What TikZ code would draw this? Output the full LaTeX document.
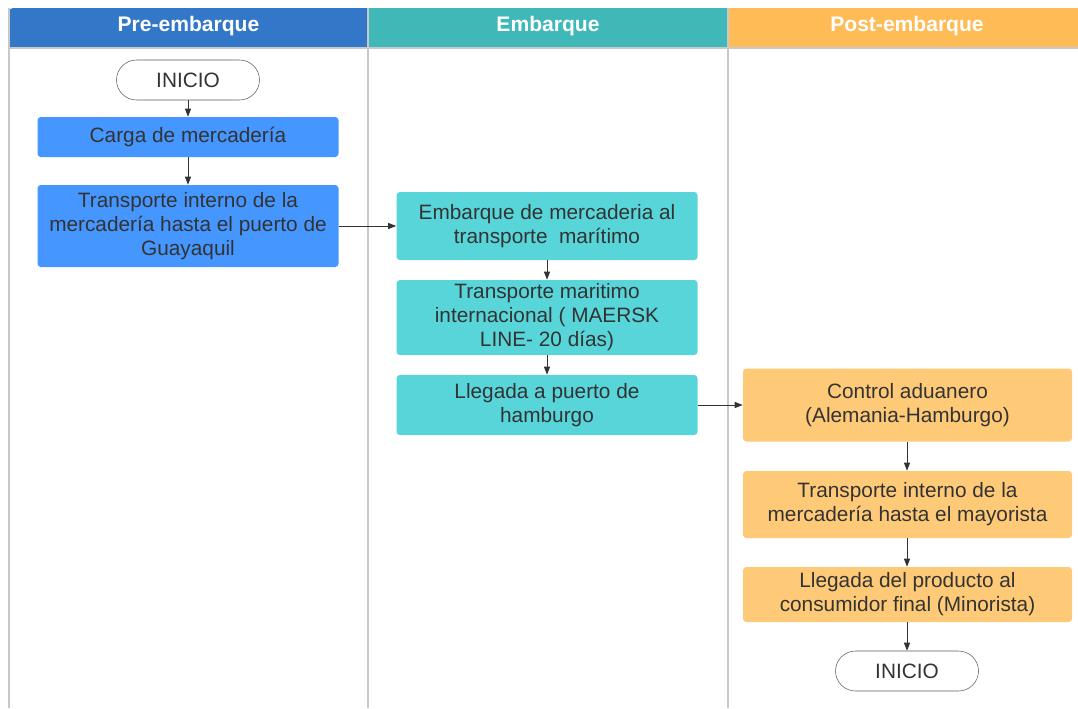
\documentclass[tikz,border=0pt]{standalone}
\usepackage{fontspec}
\setmainfont{Liberation Sans}
\usetikzlibrary{positioning,arrows.meta}
\definecolor{preblue}{RGB}{51,120,200}
\definecolor{embteal}{RGB}{64,184,184}
\definecolor{postorange}{RGB}{255,187,85}
\definecolor{boxblue}{RGB}{69,150,255}
\definecolor{boxteal}{RGB}{87,213,217}
\definecolor{boxorange}{RGB}{255,202,120}
\definecolor{textgray}{RGB}{51,51,51}
\definecolor{lanegray}{RGB}{200,200,200}

\begin{document}
\begin{tikzpicture}[x=0.75pt, y=-0.75pt,
  header/.style={text=white, font=\fontsize{15.8}{18}\selectfont\bfseries},
  paso/.style={rectangle, rounded corners=2.5pt, align=center, inner sep=0pt,
               text=textgray, font=\fontsize{15.6}{18}\selectfont},
  inicio/.style={rectangle, rounded corners=15pt, draw=textgray!80, fill=white,
                 minimum width=107.25pt, minimum height=30pt, align=center,
                 text=textgray, font=\fontsize{15.6}{18}\selectfont},
  lane/.style={draw=lanegray, line width=0.9pt},
  arrow/.style={-{Triangle[length=6pt, width=4.5pt]}, draw=textgray, line width=0.7pt}
]
  \useasboundingbox (0,0) rectangle (1078,708);

  % carriles
  \fill[preblue] (9,48) [rounded corners=3pt] -- (9,8) [sharp corners] -- (368,8) -- (368,48) -- cycle;
  \fill[embteal] (368,8) rectangle (728,48);
  \fill[postorange] (728,8) rectangle (1078,48);
  \draw[lane] (9,8) -- (9,708);
  \draw[lane] (368,8) -- (368,708);
  \draw[lane] (728,8) -- (728,708);
  \draw[lane] (9,48) -- (1078,48);
  \node[header] (hpre) at (188.5,26) {Pre-embarque};
  \node[header] (hemb) at (548,26) {Embarque};
  \node[header] (hpost) at (907,26) {Post-embarque};

  % Pre-embarque
  \node[inicio] (ini) at (188,80) {INICIO};
  \node[paso, fill=boxblue, minimum width=225.75pt, minimum height=30pt] (carga) at (188,137) {Carga de mercadería};
  \node[paso, fill=boxblue, minimum width=225.75pt, minimum height=61.5pt] (tinterno) at (188,226)
    {Transporte interno de la\\mercadería hasta el puerto de\\Guayaquil};

  % Embarque
  \node[paso, fill=boxteal, minimum width=225.75pt, minimum height=51pt] (embarque) at (547,226)
    {Embarque de mercaderia al\\transporte\ \ marítimo};
  \node[paso, fill=boxteal, minimum width=225.75pt, minimum height=56.25pt] (tmaritimo) at (547,317.5)
    {Transporte maritimo\\internacional ( MAERSK\\LINE- 20 días)};
  \node[paso, fill=boxteal, minimum width=225.75pt, minimum height=45pt] (llegada) at (547,405)
    {Llegada a puerto de\\hamburgo};

  % Post-embarque
  \node[paso, fill=boxorange, minimum width=246.75pt, minimum height=54.75pt] (control) at (907.5,405)
    {Control aduanero\\(Alemania-Hamburgo)};
  \node[paso, fill=boxorange, minimum width=246.75pt, minimum height=50.25pt] (tmayorista) at (907.5,504.5)
    {Transporte interno de la\\mercadería hasta el mayorista};
  \node[paso, fill=boxorange, minimum width=246.75pt, minimum height=41.25pt] (consumidor) at (907.5,594.5)
    {Llegada del producto al\\consumidor final (Minorista)};
  \node[inicio] (fin) at (907,671) {INICIO};

  % flechas
  \draw[arrow] (ini) -- (carga);
  \draw[arrow] (carga) -- (tinterno);
  \draw[arrow] (tinterno) -- (embarque);
  \draw[arrow] (embarque) -- (tmaritimo);
  \draw[arrow] (tmaritimo) -- (llegada);
  \draw[arrow] (llegada) -- (control);
  \draw[arrow] (control.south -| fin) -- (tmayorista.north -| fin);
  \draw[arrow] (tmayorista.south -| fin) -- (consumidor.north -| fin);
  \draw[arrow] (consumidor.south -| fin) -- (fin);
\end{tikzpicture}
\end{document}
